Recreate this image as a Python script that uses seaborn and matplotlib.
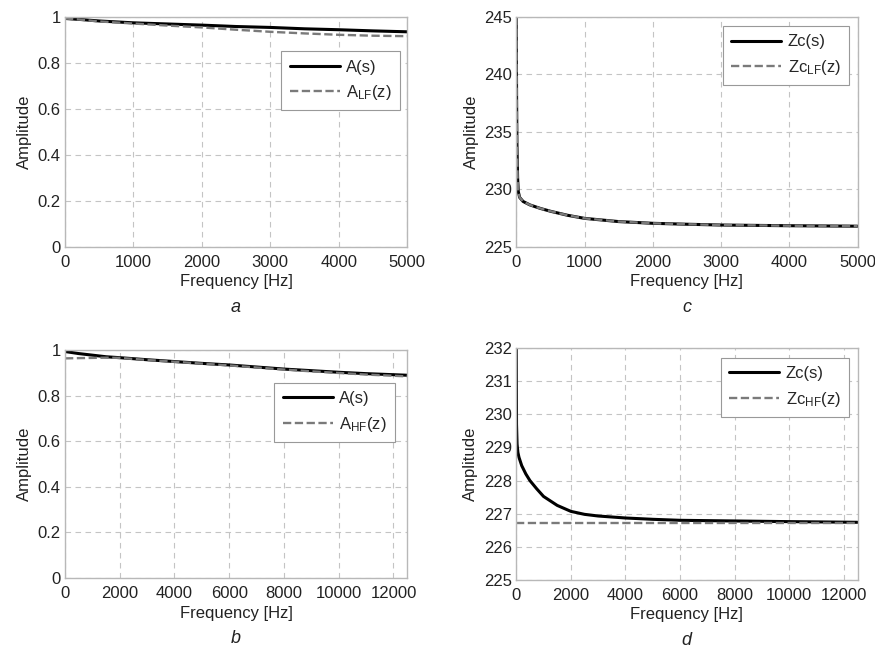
import numpy as np
import pandas as pd
import matplotlib as mpl
mpl.use('agg')
import matplotlib.pyplot as plt
import seaborn as sns
from matplotlib.ticker import FormatStrFormatter

sns.set_theme(style="whitegrid")
plt.rcParams['font.family'] = ['Liberation Sans', 'DejaVu Sans']
plt.rcParams['mathtext.default'] = 'regular'

# panel a : A(s) vs A_LF(z), 0..5000 Hz
freq_a = [0, 250, 500, 1000, 1500, 2000, 2500, 3000, 3500, 4000, 4500, 5000]
amp_a_s = [0.993, 0.988, 0.982, 0.974, 0.969, 0.964, 0.958, 0.954, 0.948, 0.944, 0.939, 0.935]
amp_a_lf = [0.993, 0.987, 0.980, 0.971, 0.962, 0.954, 0.944, 0.935, 0.928, 0.922, 0.918, 0.916]

# panel b : A(s) vs A_HF(z), 0..12500 Hz
freq_b = [0, 500, 1000, 1500, 2000, 3000, 4000, 5000, 6000, 7000, 8000, 9000, 10000, 11000, 12500]
amp_b_s = [0.993, 0.984, 0.977, 0.970, 0.966, 0.957, 0.949, 0.941, 0.934, 0.925, 0.916, 0.909, 0.902, 0.896, 0.889]
amp_b_hf = [0.963, 0.964, 0.965, 0.966, 0.965, 0.956, 0.948, 0.940, 0.932, 0.923, 0.914, 0.906, 0.899, 0.892, 0.884]

# panel c : Zc(s) vs Zc_LF(z), 0..5000 Hz
freq_c = [0, 5, 10, 20, 30, 50, 100, 200, 350, 500, 750, 1000, 1500, 2000, 2500, 3000, 4000, 5000]
zc_c_s = [245.0, 238.0, 234.0, 231.0, 229.8, 229.3, 228.95, 228.65, 228.35, 228.1, 227.75, 227.48, 227.2, 227.05, 226.97, 226.9, 226.84, 226.8]
zc_c_lf = [245.0, 238.0, 234.0, 231.0, 229.8, 229.3, 228.95, 228.65, 228.35, 228.1, 227.75, 227.48, 227.2, 227.05, 226.97, 226.9, 226.84, 226.8]

# panel d : Zc(s) vs Zc_HF(z), 0..12500 Hz
freq_d = [0, 10, 30, 60, 100, 200, 350, 500, 750, 1000, 1500, 2000, 2500, 3000, 4000, 5000, 6000, 8000, 10000, 12500]
zc_d_s = [232.0, 229.7, 229.1, 228.85, 228.7, 228.45, 228.2, 228.0, 227.75, 227.52, 227.25, 227.07, 226.98, 226.93, 226.87, 226.83, 226.8, 226.78, 226.76, 226.74]
zc_d_hf = [226.73] * len(freq_d)

panels = [
    ('a', freq_a, amp_a_s, amp_a_lf, 'A(s)', r'A$_{LF}$(z)', (0, 5000), (0, 1),
     np.arange(0, 5001, 1000), np.arange(0, 1.01, 0.2), [0.0743, 0.619, 0.391, 0.355], (0.98, 0.85)),
    ('c', freq_c, zc_c_s, zc_c_lf, 'Zc(s)', r'Zc$_{LF}$(z)', (0, 5000), (225, 245),
     np.arange(0, 5001, 1000), np.arange(225, 246, 5), [0.590, 0.619, 0.390, 0.355], (0.975, 0.96)),
    ('b', freq_b, amp_b_s, amp_b_hf, 'A(s)', r'A$_{HF}$(z)', (0, 12500), (0, 1),
     np.arange(0, 12001, 2000), np.arange(0, 1.01, 0.2), [0.0743, 0.108, 0.391, 0.352], (0.965, 0.855)),
    ('d', freq_d, zc_d_s, zc_d_hf, 'Zc(s)', r'Zc$_{HF}$(z)', (0, 12500), (225, 232),
     np.arange(0, 12001, 2000), np.arange(225, 233, 1), [0.590, 0.105, 0.390, 0.358], (0.975, 0.957)),
]

fig = plt.figure(figsize=(8.75, 6.48), dpi=100)

for letter, fx, ys, yz, lab_s, lab_z, xl, yl, xt, yt, pos, lpos in panels:
    ax = fig.add_axes(pos)
    df = pd.DataFrame({'f': fx, 's': ys, 'z': yz})
    sns.lineplot(data=df, x='f', y='s', ax=ax, color='black', lw=2.2, label=lab_s)
    sns.lineplot(data=df, x='f', y='z', ax=ax, color='#7a7a7a', lw=1.7,
                 linestyle=(0, (3.5, 1.5)), label=lab_z)
    ax.set_xlim(*xl)
    ax.set_ylim(*yl)
    ax.set_xticks(xt)
    ax.set_yticks(yt)
    ax.yaxis.set_major_formatter(FormatStrFormatter('%g'))
    ax.grid(True, color='#c4c4c4', linestyle=(0, (5, 4)), lw=0.8)
    for sp in ax.spines.values():
        sp.set_color('#b8b8b8')
        sp.set_linewidth(1.0)
    ax.tick_params(length=0, labelsize=12, colors='#222222')
    ax.tick_params(axis='x', pad=6)
    ax.tick_params(axis='y', pad=3)
    ax.set_xlabel('Frequency [Hz]', fontsize=12, labelpad=3, color='#222222')
    ax.set_ylabel('Amplitude', fontsize=12, labelpad=4, color='#222222')
    ax.annotate(letter, xy=(0.5, 0), xycoords='axes fraction', xytext=(0, -43.5),
                textcoords='offset points', ha='center', va='center',
                fontsize=13, style='italic', color='#222222')
    leg = ax.legend(loc='upper right', bbox_to_anchor=lpos, fontsize=12,
                    handlelength=3.0, fancybox=False, framealpha=1, borderpad=0.5,
                    labelspacing=0.5, handletextpad=0.4, borderaxespad=0)
    leg.get_frame().set_edgecolor('#999999')
    leg.get_frame().set_linewidth(0.8)

fig.savefig('out.png', dpi=100)
